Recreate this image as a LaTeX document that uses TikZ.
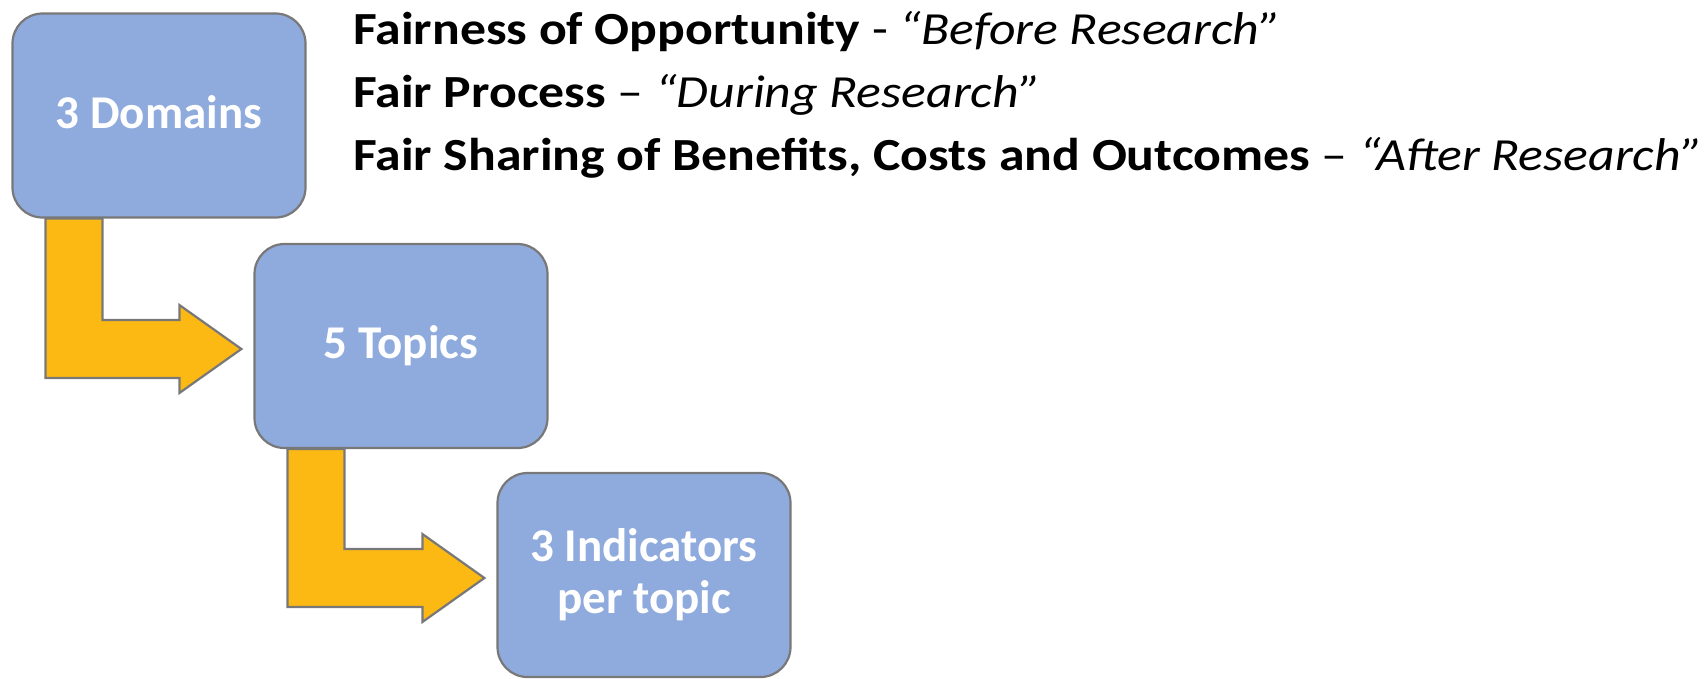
\documentclass[tikz,border=0pt]{standalone}
\usepackage{fontspec}
\setmainfont{Carlito}
\usepackage{tikz}
\definecolor{boxblue}{HTML}{8FAADC}
\definecolor{arrowgold}{RGB}{252,184,19}
\definecolor{edgegray}{RGB}{120,120,120}

\begin{document}
\begin{tikzpicture}[x=1pt,y=1pt,
		level/.style={draw=edgegray, line width=2.2pt, fill=boxblue, rounded corners=30pt, minimum width=293pt, minimum height=204pt, text=white, font=\fontsize{47}{52}\selectfont\bfseries, align=center},
		bent/.style={draw=edgegray, line width=2.2pt, fill=arrowgold},
		heading/.style={anchor=base west, inner sep=0pt, xscale=1.125, transform shape, font=\fontsize{46}{63}\selectfont}]
			\useasboundingbox (0,0) rectangle (1707,-678);
			\node[level, text height=25pt, text depth=0pt] (dom) at (159,-115.5) {3 Domains};
			\node[level, text height=25pt, text depth=0pt] (top) at (401,-346) {5 Topics};
			\node[level] (ind) at (644,-575) {3 Indicators\\per topic};

			\foreach \a/\b in {dom/top, top/ind}
			\draw[bent] ([xshift=34pt]\a.south west) -- ++(57,0) |- ([xshift=-74pt,yshift=26pt]\b.west) -- ++(0,15) -- ([xshift=-12pt,yshift=-3pt]\b.west) -- ++(-62,-44) -- ++(0,15) -| ([xshift=34pt]\a.south west) -- cycle;

			\node[heading] (opp) at (353,-44) {\textbf{Fairness of Opportunity} - \textit{“Before Research”}};
			\node[heading] (proc) at (353,-107) {\textbf{Fair Process} – \textit{“During Research”}};
			\node[heading] (share) at (353,-170) {\textbf{Fair Sharing of Benefits, Costs and Outcomes} – \textit{“After Research”}};
		\end{tikzpicture}
\end{document}
